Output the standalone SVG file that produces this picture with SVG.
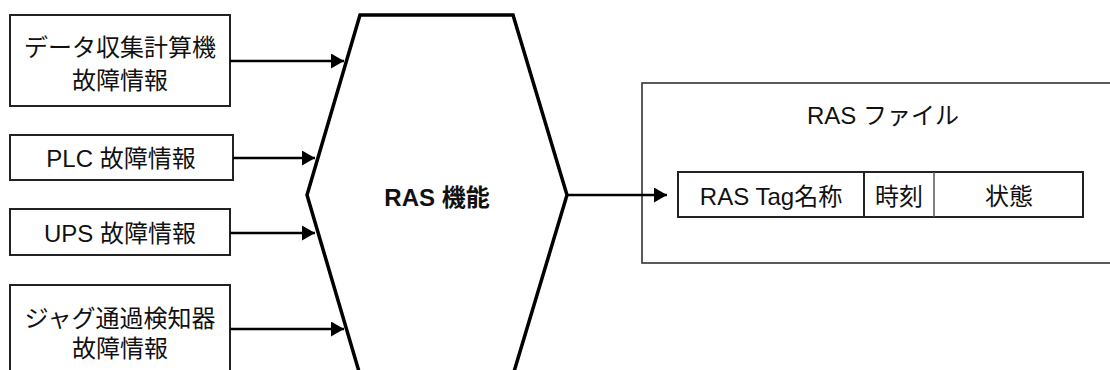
<svg xmlns="http://www.w3.org/2000/svg" width="1110" height="370" viewBox="0 0 1110 370">
<style>
text{font-family:"Liberation Sans","Noto Sans CJK JP",sans-serif;font-size:24px;fill:#111;text-anchor:middle;dominant-baseline:central}
.box{fill:#fff;stroke:#222;stroke-width:2}
.outer{fill:#fff;stroke:#333;stroke-width:1.6}
.hex{fill:#fff;stroke:#000;stroke-width:3.5;stroke-linejoin:miter}
.conn{stroke:#000;stroke-width:2.5;fill:none;marker-end:url(#ah)}
</style>
<defs>
<marker id="ah" markerUnits="userSpaceOnUse" markerWidth="14" markerHeight="16" refX="13" refY="7.5" orient="auto">
<polygon points="0,0 13,7.5 0,15" fill="#000"/>
</marker>
</defs>
<rect width="1110" height="370" fill="#fff"/>
<g id="n-data">
<rect class="box" x="10" y="15" width="220" height="91"/>
<text x="120" y="47">データ収集計算機</text>
<text x="120" y="80">故障情報</text>
</g>
<g id="n-plc">
<rect class="box" x="10" y="135" width="223" height="45"/>
<text x="121" y="158">PLC 故障情報</text>
</g>
<g id="n-ups">
<rect class="box" x="10" y="209" width="220" height="46"/>
<text x="120" y="233">UPS 故障情報</text>
</g>
<g id="n-jig">
<rect class="box" x="10" y="285" width="220" height="92"/>
<text x="120" y="318">ジャグ通過検知器</text>
<text x="120" y="348">故障情報</text>
</g>
<g id="n-ras">
<polygon class="hex" points="360,15 513,15 567,195 513,375 360,375 307,195"/>
<text x="437" y="197" font-weight="bold">RAS 機能</text>
</g>
<g id="n-file">
<rect class="outer" x="642" y="83" width="472" height="180"/>
<text x="883" y="115">RAS ファイル</text>
<rect class="box" x="678" y="172" width="405" height="45"/>
<line x1="864" y1="172" x2="864" y2="217" stroke="#222" stroke-width="2"/>
<line x1="934" y1="172" x2="934" y2="217" stroke="#555" stroke-width="1.5"/>
<text x="771" y="196">RAS Tag名称</text>
<text x="899" y="196">時刻</text>
<text x="1009" y="196">状態</text>
</g>
<g id="connectors">
<line class="conn" x1="230" y1="61" x2="344" y2="61"/>
<line class="conn" x1="233" y1="158" x2="315" y2="158"/>
<line class="conn" x1="230" y1="233" x2="315" y2="233"/>
<line class="conn" x1="230" y1="329" x2="344" y2="329"/>
<line class="conn" x1="567" y1="195" x2="667" y2="195"/>
</g>
</svg>
